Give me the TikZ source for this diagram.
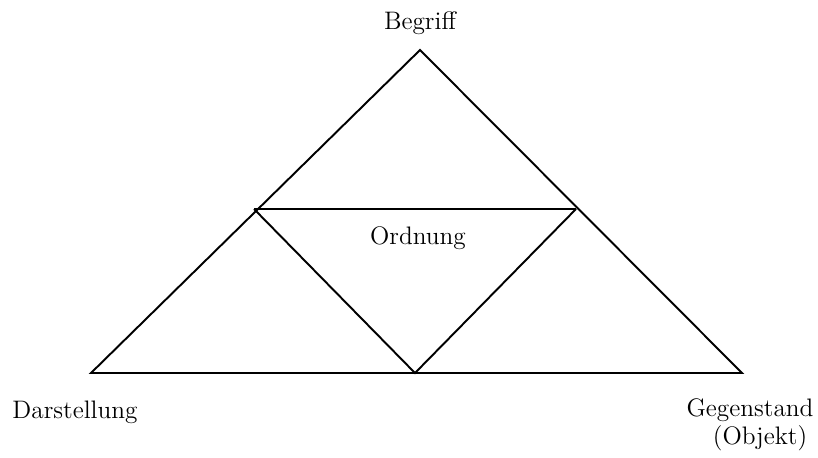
\documentclass[tikz,border=0pt]{standalone}
\usepackage{tikz}
\usetikzlibrary{positioning}

\begin{document}
\begin{tikzpicture}[x=0.02cm, y=-0.02cm, line width=1.1pt,
  lbl/.style={font=\fontsize{14.4}{16}\selectfont, inner sep=0pt}]
\useasboundingbox (0,0) rectangle (818,457);
% corners of the triangle
\coordinate (top) at (420,50);
\coordinate (bl) at (91,373);
\coordinate (br) at (742,373);
\coordinate (ml) at (254,209);
\coordinate (mr) at (576,209);
\coordinate (bm) at (415,373);
\draw (bl) -- (top) -- (br) -- cycle;
\draw (ml) -- (mr);
\draw (ml) -- (bm) -- (mr);
% labels
\node[lbl] (begriff) at (420,23) {Begriff};
\node[lbl] (ordnung) at (418,238) {Ordnung};
\node[lbl] (darst) at (75,412) {Darstellung};
\node[lbl] (gegen) at (750,410) {Gegenstand};
\node[lbl] (objekt) at (760,438) {(Objekt)};
\end{tikzpicture}
\end{document}
